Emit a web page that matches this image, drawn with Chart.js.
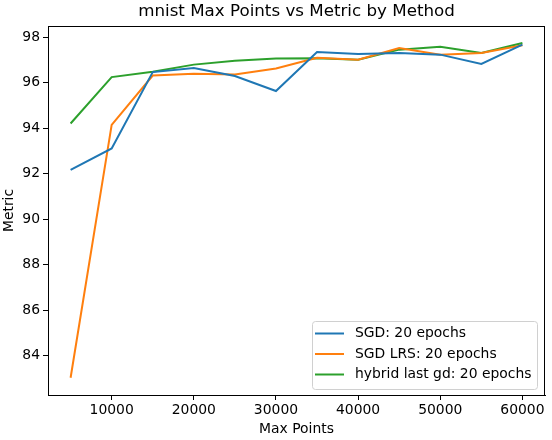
<!DOCTYPE html>
<html><head><meta charset="utf-8">
<script src="https://cdn.jsdelivr.net/npm/chart.js@4/dist/chart.umd.min.js"></script>
<style>html,body{margin:0;padding:0;background:#fff}#wrap{width:552px;height:440px}</style>
</head><body><div id="wrap"><canvas id="c" width="552" height="440"></canvas></div>
<script>
const maxPoints = [5000,10000,15000,20000,25000,30000,35000,40000,45000,50000,55000,60000];
const sgd = [92.17,93.11,96.47,96.65,96.3,95.64,97.36,97.27,97.31,97.24,96.83,97.68];
const sgdLrs = [83.02,94.15,96.32,96.4,96.37,96.63,97.1,97.02,97.53,97.24,97.31,97.65];
const hybrid = [94.21,96.25,96.49,96.8,96.97,97.07,97.08,97.02,97.46,97.59,97.31,97.75];
const seriesNames = ['SGD: 20 epochs','SGD LRS: 20 epochs','hybrid last gd: 20 epochs'];
const xTicks = [10000,20000,30000,40000,50000,60000];
const yTicks = [84,86,88,90,92,94,96,98];
const titleText = 'mnist Max Points vs Metric by Method';

const colors = ['#1f77b4','#ff7f0e','#2ca02c'];
const FONT = "'DejaVu Sans', sans-serif";
const FS = 13.9;
function toPts(arr){return maxPoints.map((x,i)=>({x:x,y:arr[i]}));}
const datasets = [sgd,sgdLrs,hybrid].map((d,i)=>({
  label: seriesNames[i], data: toPts(d), borderColor: colors[i], backgroundColor: colors[i],
  borderWidth: 2, pointRadius: 0, tension: 0, fill: false
}));

const extras = {
  id:'extras',
  afterDraw(chart){
    const ctx = chart.ctx, a = chart.chartArea;
    ctx.save();
    ctx.strokeStyle = '#000'; ctx.lineWidth = 1;
    ctx.strokeRect(Math.round(a.left)+0.5, Math.round(a.top)+0.5, Math.round(a.right-a.left)-1, Math.round(a.bottom-a.top));
    // title
    ctx.fillStyle = '#000';
    ctx.font = "16.7px " + FONT;
    ctx.textAlign = 'center'; ctx.textBaseline = 'middle';
    ctx.fillText(titleText, (a.left+a.right)/2, 12);
    // legend
    const lx = 312, ly = 321, lw = 225, lh = 68;
    ctx.globalAlpha = 0.8;
    ctx.fillStyle = '#fff';
    ctx.beginPath();
    if (ctx.roundRect) ctx.roundRect(lx+0.5, ly+0.5, lw, lh, 3); else ctx.rect(lx+0.5, ly+0.5, lw, lh);
    ctx.fill();
    ctx.globalAlpha = 1;
    ctx.strokeStyle = '#d0d0d0';
    ctx.stroke();
    ctx.font = FS + "px " + FONT;
    ctx.textAlign = 'left'; ctx.textBaseline = 'middle';
    chart.data.datasets.forEach((ds,i)=>{
      const y = ly + 12.5 + i*20.5;
      ctx.strokeStyle = ds.borderColor; ctx.lineWidth = 2;
      ctx.beginPath(); ctx.moveTo(315, y); ctx.lineTo(344, y); ctx.stroke();
      ctx.fillStyle = '#000';
      ctx.fillText(ds.label, 355, y);
    });
    ctx.restore();
  }
};

new Chart(document.getElementById('c'), {
  type: 'line',
  data: { datasets },
  options: {
    responsive: false, animation: false, devicePixelRatio: 1,
    layout: { padding: { top: 26, right: 7, left: 0, bottom: 0 } },
    plugins: { legend: { display: false }, title: { display: false }, tooltip: { enabled: false } },
    scales: {
      x: {
        type: 'linear', min: 2250, max: 62750,
        afterBuildTicks: s => { s.ticks = xTicks.map(v=>({value:v})); },
        afterFit: s => { s.height = 45; },
        grid: { drawOnChartArea: false, drawTicks: true, tickLength: 5, color: '#000' },
        border: { display: true, color: '#000' },
        ticks: { color: '#000', font: { family: FONT, size: FS }, padding: 2, maxRotation: 0, autoSkip: false,
                 callback: v => String(v) },
        title: { display: true, text: 'Max Points', color: '#000', font: { family: FONT, size: FS }, padding: { top: 0, bottom: 2 } }
      },
      y: {
        type: 'linear', min: 82.26, max: 98.5,
        afterBuildTicks: s => { s.ticks = yTicks.map(v=>({value:v})); },
        afterFit: s => { s.width = 48; },
        grid: { drawOnChartArea: false, drawTicks: true, tickLength: 5, color: '#000' },
        border: { display: true, color: '#000' },
        ticks: { color: '#000', font: { family: FONT, size: FS }, padding: 3, autoSkip: false,
                 callback: v => String(v) },
        title: { display: true, text: 'Metric', color: '#000', font: { family: FONT, size: FS }, padding: { top: 1, bottom: 0 } }
      }
    }
  },
  plugins: [extras]
});
</script>
</body></html>
